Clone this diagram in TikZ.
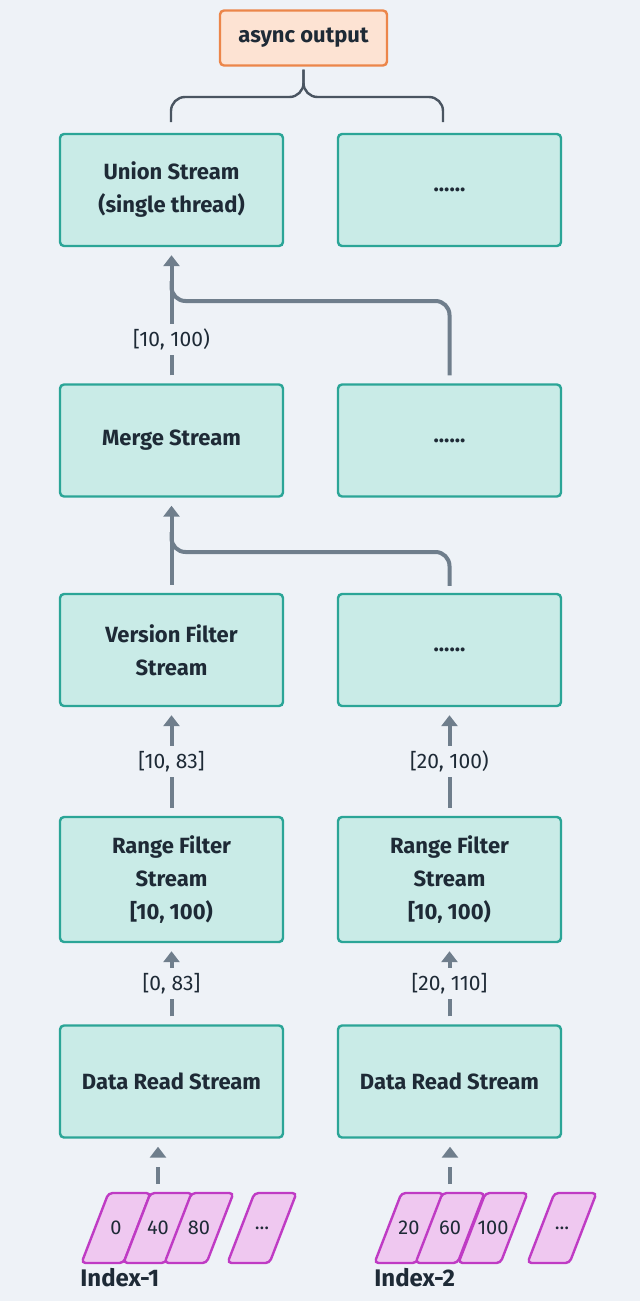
\documentclass[tikz,border=0pt]{standalone}
\usepackage{fontspec}
\setmainfont{Fira Sans}
\usepackage{tikz}
\usetikzlibrary{positioning}
\usetikzlibrary{arrows.meta}
\usepackage{xcolor}

\definecolor{bg}{HTML}{EEF2F7}
\definecolor{boxfill}{HTML}{C9EBE7}
\definecolor{boxline}{HTML}{2BA597}
\definecolor{arrowc}{HTML}{6F7E8C}
\definecolor{ink}{HTML}{1E2A36}
\definecolor{outfill}{HTML}{FDE3D3}
\definecolor{outline}{HTML}{EC864A}
\definecolor{segfill}{HTML}{EFC8F0}
\definecolor{segline}{HTML}{BF3BC4}
\definecolor{bracec}{HTML}{4A5561}

\newcommand{\segdots}{...}

\begin{document}
\begin{tikzpicture}[x=0.5pt, y=-0.5pt,
    stream/.style={draw=boxline, fill=boxfill, line width=1.2pt, rounded corners=2pt,
        minimum width=111.5pt, minimum height=56pt, align=center, text=ink,
        font=\bfseries\fontsize{11}{16.5}\selectfont},
    outbox/.style={stream, draw=outline, fill=outfill, minimum width=83.5pt, minimum height=27.5pt},
    seg/.style={draw=segline, fill=segfill, line width=1.2pt, rounded corners=2pt},
    segtxt/.style={inner sep=0pt, text=ink, font=\fontsize{10}{12}\selectfont},
    flow/.style={draw=arrowc, line width=2pt, -{Triangle[width=8pt,length=5.5pt]},
        shorten <=4pt, shorten >=4pt},
    branch/.style={draw=arrowc, line width=2pt, rounded corners=7pt},
    idxflow/.style={flow, dash pattern=on 8.5pt off 5pt, shorten <=4.5pt},
    lbl/.style={fill=bg, inner sep=2.5pt, text=ink, font=\fontsize{10.5}{12}\selectfont},
    brace/.style={draw=bracec, line width=1.2pt, rounded corners=7pt},
    idxlbl/.style={text=ink, inner sep=0pt, font=\bfseries\fontsize{12}{14}\selectfont}]

    \fill[bg] (0,0) rectangle (640,1301);

    % top
    \node[outbox] (out) at (303.5,38) {async output};
    \node[stream] (union1) at (171.5,190) {Union Stream\\(single thread)};
    \node[stream] (union2) at (449.5,190) {......};
    \node[stream] (merge1) at (171.5,440.5) {Merge Stream};
    \node[stream] (merge2) at (449.5,440.5) {......};
    \node[stream] (vfilter1) at (171.5,650) {Version Filter\\Stream};
    \node[stream] (vfilter2) at (449.5,650) {......};
    \node[stream, minimum height=62.5pt] (rfilter1) at (171.5,879.5) {Range Filter\\Stream\\{}[10, 100)};
    \node[stream, minimum height=62.5pt] (rfilter2) at (449.5,879.5) {Range Filter\\Stream\\{}[10, 100)};
    \node[stream] (read1) at (171.5,1081.5) {Data Read Stream};
    \node[stream] (read2) at (449.5,1081.5) {Data Read Stream};

    % segments
    \foreach \x/\t [count=\i] in {116/0, 158/40, 199/80, 262/\segdots}
    {
        \draw[seg] (\x-7.5,1193) -- (\x+34.5,1193) -- (\x+7.5,1263) -- (\x-34.5,1263) -- cycle;
        \node[segtxt] (a\i) at (\x,1228) {\t};
    }
    \foreach \x/\t [count=\i] in {409/20, 450/60, 493/100, 562/\segdots}
    {
        \draw[seg] (\x-7.5,1193) -- (\x+34.5,1193) -- (\x+7.5,1263) -- (\x-34.5,1263) -- cycle;
        \node[segtxt] (b\i) at (\x,1228) {\t};
    }
    \node[idxlbl, anchor=west] (idx1) at (80,1278) {Index-1};
    \node[idxlbl, anchor=west] (idx2) at (374,1278) {Index-2};

    % brace
    \coordinate (bl) at (171,122);
    \coordinate (br) at (443,122);
    \coordinate (bc) at (303.5,97);
    \draw[brace, shorten >=1.5pt] (bl) |- (bc) -- (out.south);
    \draw[brace, shorten >=1.5pt] (br) |- (bc) -- (out.south);

    % joins
    \coordinate (j1) at (171.5,301);
    \coordinate (j2) at (171.5,552);
    \draw[branch] ([yshift=4pt]merge2.north) |- (j1) -- ++(0,-20);
    \draw[branch] ([yshift=3.5pt]vfilter2.north) |- (j2) -- ++(0,-20);

    % arrows
    \draw[flow] (merge1.north) -- node[lbl, pos=0.32] {[10, 100)} (union1.south);
    \draw[flow] (vfilter1.north) -- (merge1.south);
    \draw[flow] (rfilter1.north) -- node[lbl] {[10, 83]} (vfilter1.south);
    \draw[flow] (rfilter2.north) -- node[lbl] {[20, 100)} (vfilter2.south);
    \draw[flow] (read1.north) -- node[lbl] {[0, 83]} (rfilter1.south);
    \draw[flow] (read2.north) -- node[lbl] {[20, 110]} (rfilter2.south);
    \draw[idxflow] ([yshift=17.5pt]a2.center) -- (a2.center |- read1.south);
    \draw[idxflow] ([yshift=17.5pt]b2.center) -- (b2.center |- read2.south);
\end{tikzpicture}
\end{document}
